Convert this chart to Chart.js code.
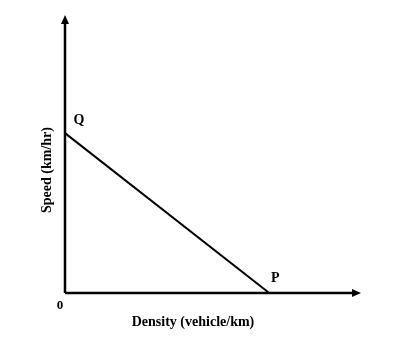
<!DOCTYPE html>
<html>
<head>
<meta charset="utf-8">
<script src="https://cdn.jsdelivr.net/npm/chart.js@4"></script>
<style>
  html, body { margin: 0; padding: 0; background: #fff; }
  #wrap { width: 396px; height: 344px; }
</style>
</head>
<body>
<div id="wrap"><canvas id="speedChart"></canvas></div>
<script>
// speed-density relation: straight line from Q (free speed) to P (jam density)
const pointLabels = ['Q', 'P'];
const densityValues = [0, 6.9];
const speedValues = [5.75, 0];
const xTitle = 'Density (vehicle/km)';
const yTitle = 'Speed (km/hr)';
const originLabel = '0';

const serif = '"Liberation Serif", "Times New Roman", serif';

// draws the two arrowed axes and all the labels
const axesPlugin = {
    id: 'axesPlugin',
    afterDraw(chart) {
        const ctx = chart.ctx;
        const area = chart.chartArea;
        const xs = chart.scales.x;
        const ys = chart.scales.y;
        ctx.save();
        ctx.strokeStyle = '#000';
        ctx.fillStyle = '#000';
        ctx.lineWidth = 2.5;

        // y axis
        ctx.beginPath();
        ctx.moveTo(area.left, area.bottom);
        ctx.lineTo(area.left, area.top + 6);
        ctx.stroke();
        ctx.beginPath();
        ctx.moveTo(area.left, area.top);
        ctx.lineTo(area.left - 4, area.top + 9);
        ctx.lineTo(area.left + 4, area.top + 9);
        ctx.closePath();
        ctx.fill();

        // x axis
        ctx.beginPath();
        ctx.moveTo(area.left, area.bottom);
        ctx.lineTo(area.right - 6, area.bottom);
        ctx.stroke();
        ctx.beginPath();
        ctx.moveTo(area.right, area.bottom);
        ctx.lineTo(area.right - 9, area.bottom - 4);
        ctx.lineTo(area.right - 9, area.bottom + 4);
        ctx.closePath();
        ctx.fill();

        // point labels
        ctx.font = 'bold 14px ' + serif;
        ctx.textAlign = 'center';
        ctx.textBaseline = 'middle';
        const qx = xs.getPixelForValue(densityValues[0]);
        const qy = ys.getPixelForValue(speedValues[0]);
        ctx.fillText(pointLabels[0], qx + 14, qy - 13);
        const px = xs.getPixelForValue(densityValues[1]);
        const py = ys.getPixelForValue(speedValues[1]);
        ctx.fillText(pointLabels[1], px + 6, py - 15);

        // origin
        ctx.font = 'bold 13px ' + serif;
        ctx.fillText(originLabel, area.left - 5, area.bottom + 13);

        // axis titles
        ctx.font = 'bold 14px ' + serif;
        ctx.fillText(xTitle, 193, 322);
        ctx.translate(47, 170);
        ctx.rotate(-Math.PI / 2);
        ctx.fillText(yTitle, 0, 0);
        ctx.restore();
    }
};

const ctx = document.getElementById('speedChart').getContext('2d');
new Chart(ctx, {
    type: 'scatter',
    data: {
        datasets: [{
            data: densityValues.map((d, i) => ({ x: d, y: speedValues[i] })),
            showLine: true,
            borderColor: '#000',
            borderWidth: 2,
            pointRadius: 0,
            fill: false,
            clip: false
        }]
    },
    options: {
        responsive: true,
        maintainAspectRatio: false,
        animation: false,
        layout: {
            padding: { left: 65, right: 35, top: 15, bottom: 51 }
        },
        plugins: {
            legend: { display: false },
            tooltip: { enabled: false }
        },
        scales: {
            x: { type: 'linear', min: 0, max: 10, display: false },
            y: { type: 'linear', min: 0, max: 10, display: false }
        }
    },
    plugins: [axesPlugin]
});
</script>
</body>
</html>
